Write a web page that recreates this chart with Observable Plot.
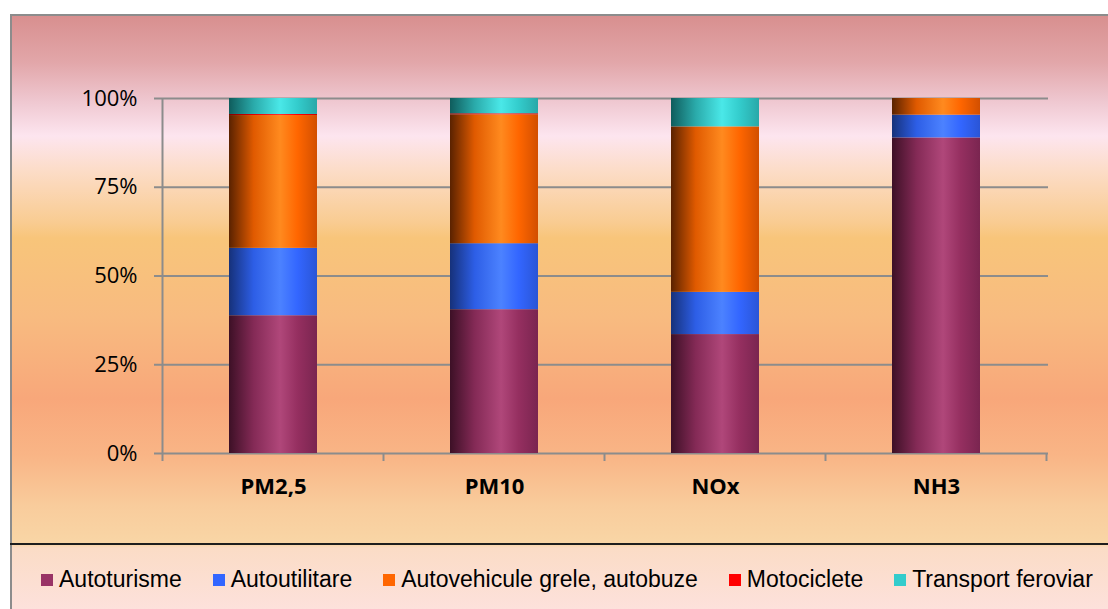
<!DOCTYPE html>
<html>
<head>
<meta charset="utf-8">
<script src="https://cdn.jsdelivr.net/npm/d3@7"></script>
<script src="https://cdn.jsdelivr.net/npm/@observablehq/plot@0.6"></script>
<style>
  html, body { margin: 0; padding: 0; }
  body { width: 1108px; height: 609px; overflow: hidden; background: #ffffff; position: relative; }
  #bg {
    position: absolute; left: 10px; top: 14px; width: 1098px; height: 595px;
    box-sizing: border-box; border-left: 2px solid #8c8c8c; border-top: 2px solid #8c8c8c;
    background: linear-gradient(to bottom,
      #d88f8f 0px, #e2a6a9 46px, #efc8d1 86px, #fde5ef 120px, #fcdcc6 156px,
      #f9cc92 206px, #f8c57a 222px, #f8bb80 300px, #f8a77a 383px, #f9b586 440px,
      #f9cc9c 490px, #f9d6a6 528px, #fbdcc6 532px, #fde1dc 595px);
  }
  #chart { position: absolute; left: 0; top: 0; }
  #sep { position: absolute; left: 10px; top: 543px; width: 1098px; height: 2px; background: #1e1e1e; }
  #legend {
    position: absolute; left: 41px; top: 568px; display: flex; gap: 31px;
    font-family: "Liberation Sans", Arial, sans-serif; font-size: 23px; line-height: 23px; color: #000;
    white-space: nowrap;
  }
  .item { display: flex; align-items: center; }
  .sw { width: 12px; height: 12px; margin-right: 6px; display: inline-block; }
</style>
</head>
<body>
<div id="bg"></div>
<div id="chart"></div>
<div id="sep"></div>
<div id="legend"></div>
<script>
// ---- data (percent shares) ----
const categories = ["PM2,5", "PM10", "NOx", "NH3"];
const series = ["Autoturisme", "Autoutilitare", "Autovehicule grele, autobuze", "Motociclete", "Transport feroviar"];
const autoturisme   = [38.8, 40.5, 33.5, 88.9];
const autoutilitare = [19.0, 18.6, 11.9, 6.4];
const autovehicule  = [37.4, 36.3, 46.6, 4.7];
const motociclete   = [0.3, 0.3, 0.0, 0.0];
const feroviar      = [4.5, 4.3, 8.0, 0.0];
const yTicks = [0, 25, 50, 75, 100];

// ---- styles ----
const swatchColors = ["#993366", "#3366ff", "#ff6600", "#ff0000", "#33cccc"];
const gradStops = [
  ["#3d1026", "#842a56", "#b0477a", "#952f60", "#7a2550"],
  ["#16317a", "#2d5ee6", "#4c82ff", "#3366ff", "#2a55d6"],
  ["#5a2200", "#e05a00", "#ff8a1f", "#ff6600", "#d24f00"],
  ["#800000", "#e00000", "#ff3030", "#ff0000", "#d00000"],
  ["#0f5c5c", "#2aaaaa", "#4ae8e8", "#33cccc", "#29a8a8"]
];
const stopOffsets = [0, 0.28, 0.58, 0.78, 1];

const valuesBySeries = [autoturisme, autoutilitare, autovehicule, motociclete, feroviar];
const data = [];
series.forEach((s, si) => {
  categories.forEach((c, ci) => data.push({series: s, category: c, value: valuesBySeries[si][ci]}));
});

const gray = "#8c8c8c";

const frameMark = (index, scales, values, dims) => {
  const x = scales.x, y = scales.y;
  const g = d3.create("svg:g").attr("stroke", gray).attr("stroke-width", 2).attr("fill", "none");
  const step = x.step ? x.step() : (dims.width - dims.marginLeft - dims.marginRight) / categories.length;
  const bw = x.bandwidth();
  const bounds = categories.map(c => x(c) + bw / 2 - step / 2);
  bounds.push(x(categories[categories.length - 1]) + bw / 2 + step / 2);
  const y0 = y(0);
  g.append("line").attr("x1", bounds[0]).attr("x2", bounds[0]).attr("y1", y(100)).attr("y2", y0);
  bounds.forEach(b => g.append("line").attr("x1", b).attr("x2", b).attr("y1", y0).attr("y2", y0 + 8));
  return g.node();
};

const plot = Plot.plot({
  width: 1108,
  height: 544,
  marginLeft: 162,
  marginRight: 60,
  marginTop: 98,
  marginBottom: 91,
  style: {background: "transparent", fontFamily: "'Open Sans', sans-serif", fontSize: "22px", color: "#000", overflow: "visible"},
  x: {domain: categories, paddingInner: 0.6, paddingOuter: 0.3, label: null},
  y: {domain: [0, 100], label: null},
  color: {domain: series, range: series.map((d, i) => `url(#grad${i})`)},
  marks: [
    Plot.ruleY(yTicks, {stroke: gray, strokeWidth: 2}),
    Plot.axisY({ticks: yTicks, tickFormat: d => d + "%", tickSize: 8, tickPadding: 17, stroke: gray, strokeWidth: 2, label: null, fontSize: 22}),
    Plot.axisX({tickSize: 0, tickPadding: 25, fontWeight: "bold", fontSize: 22, label: null}),
    Plot.barY(data, {x: "category", y: "value", fill: "series"}),
    frameMark
  ]
});

const defs = d3.select(plot).insert("defs", ":first-child");
gradStops.forEach((stops, i) => {
  const lg = defs.append("linearGradient").attr("id", `grad${i}`).attr("x1", 0).attr("x2", 1).attr("y1", 0).attr("y2", 0);
  stops.forEach((c, j) => lg.append("stop").attr("offset", stopOffsets[j]).attr("stop-color", c));
});

document.getElementById("chart").appendChild(plot);

const legend = d3.select("#legend");
series.forEach((s, i) => {
  const it = legend.append("div").attr("class", "item");
  it.append("span").attr("class", "sw").style("background", swatchColors[i]);
  it.append("span").text(s);
});
</script>
</body>
</html>
